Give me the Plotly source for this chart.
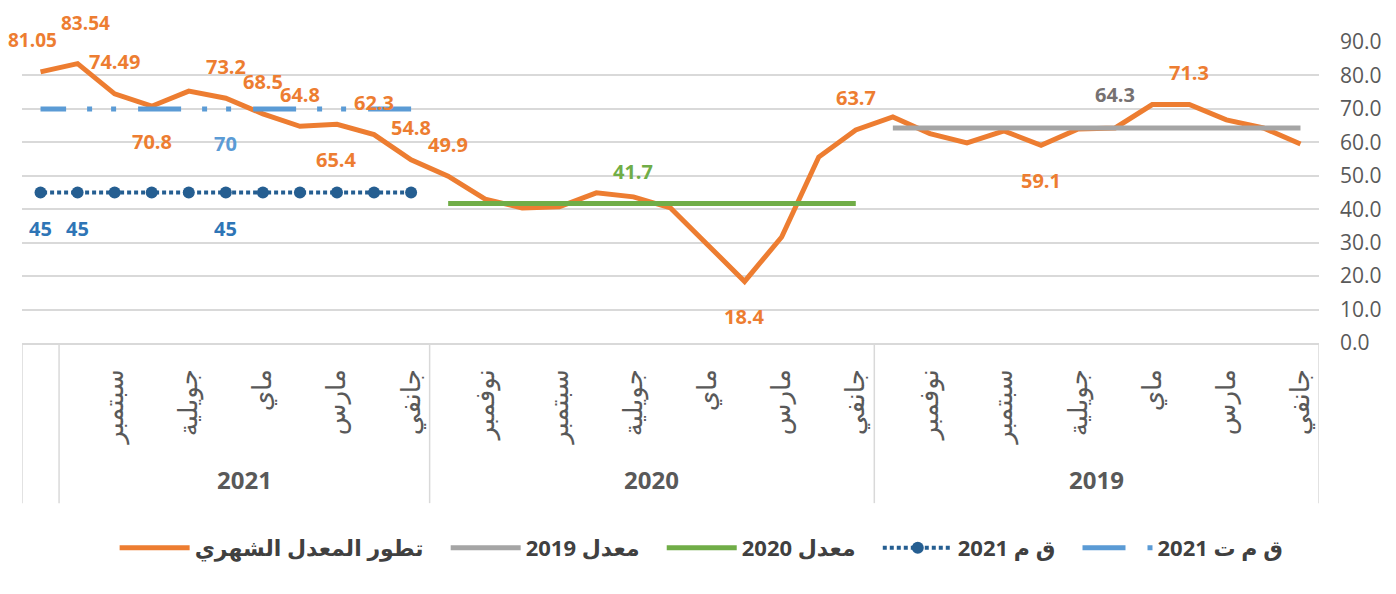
import plotly.graph_objects as go

# categories: months grouped by year (2019, 2020, 2021) + one extra trailing month
month_names = ['جانفي', 'فيفري', 'مارس', 'أفريل', 'ماي', 'جوان',
               'جويلية', 'أوت', 'سبتمبر', 'أكتوبر', 'نوفمبر', 'ديسمبر']
years = ['2019', '2020', '2021']
months_per_year = [12, 12, 10]
extra_cats = 1

# monthly rate (35 points, Jan 2019 -> last month)
monthly = [59.5, 64.3, 66.7, 71.3, 71.3, 64.3, 64.0, 59.1, 63.4, 59.8, 62.6, 67.6,
           63.7, 55.6, 31.7, 18.4, 29.4, 40.4, 43.7, 44.9, 40.7, 40.4, 43.0, 49.9,
           54.8, 62.3, 65.4, 64.8, 68.5, 73.2, 75.3, 70.8, 74.49, 83.54, 81.05]
monthly_labelled = [34, 33, 32, 31, 29, 28, 27, 26, 25, 24, 23, 15, 12, 7, 3]

avg_2019 = 64.3
avg_2020 = 41.7
qm_2021 = 45
qmt_2021 = 70

n = sum(months_per_year) + extra_cats
xs = list(range(n))
x2019 = xs[0:12]
x2020 = xs[12:24]
x2021 = xs[24:n]

# tick labels: every other month inside each year
tickvals, ticktext = [], []
start = 0
for cnt in months_per_year:
    for m in range(0, cnt, 2):
        tickvals.append(start + m)
        ticktext.append(month_names[m])
    start += cnt

ORANGE = '#ED7D31'
GRAY = '#A5A5A5'
GREEN = '#70AD47'
DBLUE = '#255E91'
LBLUE = '#5B9BD5'
FONT = 'Open Sans, DejaVu Sans, sans-serif'
PAD = '\u00a0' * 3  # extra room after legend text

fig = go.Figure()
fig.add_trace(go.Scatter(x=xs, y=monthly, mode='lines', name='تطور المعدل الشهري' + PAD,
                         line=dict(color=ORANGE, width=5)))
fig.add_trace(go.Scatter(x=x2019, y=[avg_2019] * len(x2019), mode='lines', name='معدل 2019' + PAD,
                         line=dict(color=GRAY, width=5)))
fig.add_trace(go.Scatter(x=x2020, y=[avg_2020] * len(x2020), mode='lines', name='معدل 2020' + PAD,
                         line=dict(color=GREEN, width=5)))
fig.add_trace(go.Scatter(x=x2021, y=[qm_2021] * len(x2021), mode='lines+markers', name='ق م 2021' + PAD,
                         line=dict(color=DBLUE, width=4, dash='4px,3px'),
                         marker=dict(size=12, color=DBLUE)))
fig.add_trace(go.Scatter(x=x2021, y=[qmt_2021] * len(x2021), mode='lines', name='ق م ت 2021',
                         line=dict(color=LBLUE, width=5, dash='43px,22px,5px,19px,5px,21px')))

ann = []
def lab(x, y, text, color, dy, dx=0, size=20):
    ann.append(dict(x=x, y=y, text=text, showarrow=False, yshift=dy, xshift=dx, yanchor='middle',
                    font=dict(family=FONT, size=size, color=color, weight='bold')))

# label nudges for the crowded top-left corner
nudge = {34: (32, -8), 33: (41, 8)}
for i in monthly_labelled:
    v = monthly[i]
    up = i not in (31, 26, 15, 7)
    dy, dx = nudge.get(i, (32 if up else -35, 0))
    lab(i, v, str(v), ORANGE, dy, dx, 19 if i in nudge else 20)

lab(x2019[5], avg_2019, str(avg_2019), '#767171', 33)
lab(x2020[6], avg_2020, str(avg_2020), GREEN, 32)
lab(x2021[5], qmt_2021, str(qmt_2021), LBLUE, -35)
for k in (10, 9, 5):
    lab(x2021[k], qm_2021, str(qm_2021), '#2E75B6', -36)

# year group labels and dividers
shapes = []
start = 0
bounds = [-0.5]
for yr, cnt in zip(years, months_per_year):
    ann.append(dict(x=start + (cnt - 1) / 2, y=-0.455, yref='paper', text=yr, showarrow=False,
                    yanchor='middle', font=dict(family=FONT, size=24, color='#595959', weight='bold')))
    start += cnt
    bounds.append(start - 0.5)
bounds.append(n - 0.5)
for b in bounds:
    shapes.append(dict(type='line', xref='x', yref='paper', x0=b, x1=b, y0=0, y1=-0.532,
                       line=dict(color='#D9D9D9', width=1.5)))

# page body has an 8px margin, so the figure is made 8px smaller and shifted
fig.update_layout(
    width=1388, height=586,
    margin=dict(l=14, r=77, t=34, b=251),
    plot_bgcolor='white', paper_bgcolor='white',
    font=dict(family=FONT, color='#595959'),
    annotations=ann, shapes=shapes,
    legend=dict(orientation='h', x=0.524, xanchor='center', y=-0.681, yanchor='middle',
                font=dict(family=FONT, size=22, color='#404040', weight='bold'),
                itemwidth=70, traceorder='normal'),
)
fig.update_xaxes(range=[n - 0.5, -0.5], tickvals=tickvals, ticktext=ticktext, tickangle=-90,
                 showgrid=False, zeroline=False, showline=True, linecolor='#D9D9D9', linewidth=1.5,
                 ticks='', ticklabelstandoff=14, tickfont=dict(size=26, color='#595959'))
fig.update_yaxes(range=[0, 90], dtick=10, tickformat='.1f', side='right', showgrid=True,
                 gridcolor='#D9D9D9', gridwidth=1.5, zeroline=False, ticks='',
                 ticklabelstandoff=20, tickfont=dict(size=21, color='#595959'))

fig.write_html('out.html')
